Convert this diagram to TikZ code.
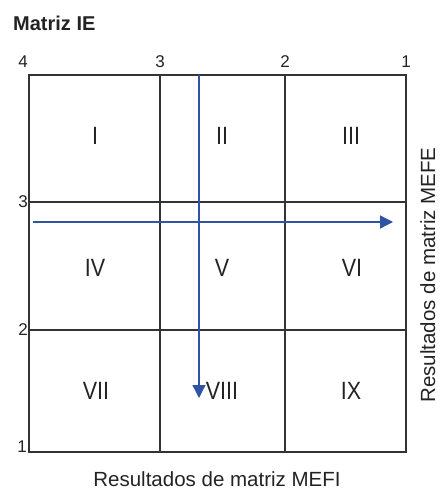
\documentclass[tikz,border=0pt]{standalone}
\usepackage{fontspec}
\setmainfont{Liberation Sans}
\newfontfamily\ienarrow[FakeStretch=0.86]{Liberation Sans}
\usepackage{xcolor}
\definecolor{iegray}{RGB}{51,51,51}
\definecolor{ietext}{RGB}{35,35,35}
\definecolor{ieblue}{RGB}{47,84,164}
\usetikzlibrary{arrows.meta,positioning}

\begin{document}
\begin{tikzpicture}[x=1pt,y=-1pt,
  iegrid/.style={draw=iegray,line width=1.4pt},
  iecell/.style={font=\ienarrow\fontsize{25}{28}\selectfont,text=ietext,inner sep=0pt},
  ietick/.style={font=\fontsize{17}{19}\selectfont,text=ietext,inner sep=0pt},
  ieaxis/.style={font=\fontsize{20.5}{24}\selectfont,text=ietext,inner sep=0pt},
  iearr/.style={ieblue,line width=1.3pt,-{Triangle[length=13pt,width=13pt]}}
]
  \useasboundingbox (0,0) rectangle (441,489);

  % Title
  \node[anchor=base west,inner sep=0pt,font=\fontsize{20}{24}\selectfont\bfseries,text=ietext]
    (title) at (13,31) {Matriz IE};

  % Grid corners and lines
  \coordinate (tl) at (29,75);
  \coordinate (br) at (406,452);
  \draw[iegrid] (tl) rectangle (br);
  \draw[iegrid] (160,75) -- (160,452);
  \draw[iegrid] (285,75) -- (285,452);
  \draw[iegrid] (29,202) -- (406,202);
  \draw[iegrid] (29,330) -- (406,330);

  % Top scale
  \node[ietick,anchor=base] (t4) at (23,68) {4};
  \node[ietick,anchor=base] (t3) at (160,68) {3};
  \node[ietick,anchor=base] (t2) at (285,68) {2};
  \node[ietick,anchor=base] (t1) at (406,68) {1};

  % Left scale
  \node[ietick,anchor=east] (l3) at (28,202) {3};
  \node[ietick,anchor=east] (l2) at (28,330) {2};
  \node[ietick,anchor=base east] (l1) at (27,452) {1};

  % Cells
  \node[iecell] (c1) at (95,136) {I};
  \node[iecell] (c2) at (222,136) {II};
  \node[iecell] (c3) at (351,136) {III};
  \node[iecell] (c4) at (95,268) {IV};
  \node[iecell] (c5) at (222,268) {V};
  \node[iecell] (c6) at (352,268) {VI};
  \node[iecell] (c7) at (96,391) {VII};
  \node[iecell] (c8) at (222,391) {VIII};
  \node[iecell] (c9) at (351,391) {IX};

  % Axis titles
  \node[ieaxis,anchor=base] (mefi) at (217,486) {Resultados de matriz MEFI};
  \node[ieaxis,rotate=90,anchor=base] (mefe) at (435,275) {Resultados de matriz MEFE};

  % Position arrows
  \coordinate (vtop) at (199,75);
  \coordinate (vend) at (199,398);
  \coordinate (hleft) at (33,222);
  \coordinate (hend) at (393,222);
  \draw[iearr] (vtop) -- (vend);
  \draw[iearr] (hleft) -- (hend);
\end{tikzpicture}
\end{document}
